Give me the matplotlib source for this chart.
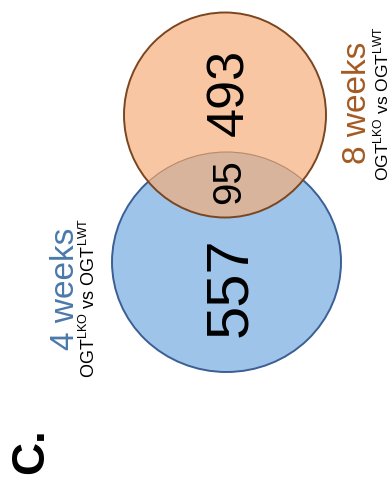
import matplotlib
matplotlib.use("Agg")
import matplotlib.pyplot as plt
from matplotlib.patches import Ellipse

plt.rcParams["font.family"] = ["Liberation Sans", "DejaVu Sans"]
plt.rcParams["mathtext.fontset"] = "custom"
plt.rcParams["mathtext.rm"] = "Liberation Sans"
plt.rcParams["mathtext.it"] = "Liberation Sans:italic"
plt.rcParams["mathtext.bf"] = "Liberation Sans:bold"

# Venn data: genes changed in each comparison
set_titles = ["4 weeks", "8 weeks"]
set_subtitles = [r"OGT$^{\mathrm{LKO}}$ vs OGT$^{\mathrm{LWT}}$",
                 r"OGT$^{\mathrm{LKO}}$ vs OGT$^{\mathrm{LWT}}$"]
only_4w = 557
only_8w = 493
shared = 95
panel_label = "C."

W, H = 390, 479
fig = plt.figure(figsize=(W / 100, H / 100), dpi=100)
ax = fig.add_axes([0, 0, 1, 1])
ax.set_xlim(0, W)
ax.set_ylim(H, 0)
ax.axis("off")

blue_fill, blue_edge = "#9fc4e9", "#3b5f94"
orange_fill, orange_edge = "#f9c6a3", "#7a4620"
overlap_fill = "#d8b49c"

# circles (drawn rotated: 4 weeks at bottom, 8 weeks at top)
blue = Ellipse((226.5, 262), 229, 220, facecolor=blue_fill,
               edgecolor=blue_edge, lw=1.4, zorder=1)
ax.add_patch(blue)
orange = Ellipse((225, 115), 202, 205, facecolor=orange_fill,
                 edgecolor="none", zorder=2)
ax.add_patch(orange)
inter = Ellipse((226.5, 262), 229, 220, facecolor=overlap_fill,
                edgecolor="#b88a6a", lw=0.8, zorder=3)
ax.add_patch(inter)
inter.set_clip_path(orange)
orange_ring = Ellipse((225, 115), 202, 205, facecolor="none",
                      edgecolor=orange_edge, lw=1.4, zorder=4)
ax.add_patch(orange_ring)

# region counts
ax.text(231, 287, str(only_4w), rotation=90, ha="center", va="center",
        fontsize=43, color="black", zorder=5)
ax.text(230, 92, str(only_8w), rotation=90, ha="center", va="center",
        fontsize=37.5, color="black", zorder=5)
ax.text(229, 182, str(shared), rotation=90, ha="center", va="center",
        fontsize=29, color="black", zorder=5)

# set labels
ax.text(65, 289, set_titles[0], rotation=90, ha="center", va="center",
        fontsize=24, color="#4a79aa")
ax.text(89, 298, set_subtitles[0], rotation=90, ha="center", va="center",
        fontsize=13, color="black")
ax.text(357, 103, set_titles[1], rotation=90, ha="center", va="center",
        fontsize=24, color="#a45a22")
ax.text(381, 104, set_subtitles[1], rotation=90, ha="center", va="center",
        fontsize=12.5, color="black")

# panel letter
ax.text(31, 451, panel_label, rotation=90, ha="center", va="center",
        fontsize=33, fontweight="bold", color="black")

fig.savefig("out.png", dpi=100)
